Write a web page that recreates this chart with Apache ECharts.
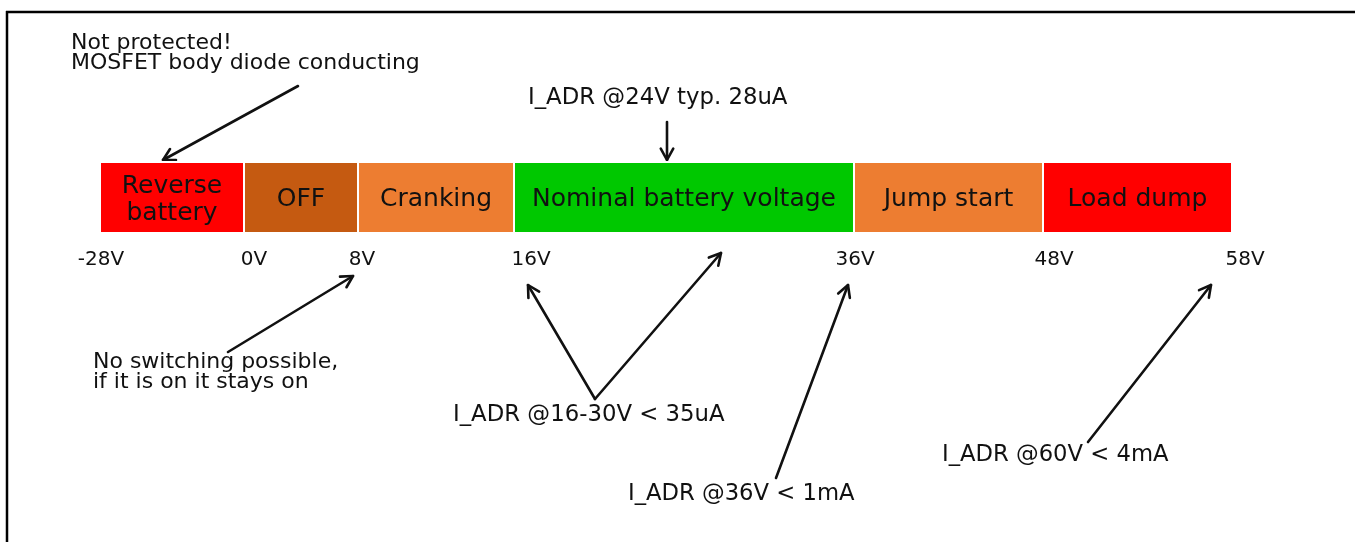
<!DOCTYPE html>
<html>
<head>
<meta charset="utf-8">
<script src="https://cdn.jsdelivr.net/npm/echarts@6/dist/echarts.min.js"></script>
<style>
  html, body { margin: 0; padding: 0; background: #fff; }
  #chart { width: 1355px; height: 542px; }
</style>
</head>
<body>
<div id="chart"></div>
<script>
// zones of the supply voltage
const zoneNames = ['Reverse\nbattery', 'OFF', 'Cranking', 'Nominal battery voltage', 'Jump start', 'Load dump'];
const zoneFrom = [-28, 0, 8, 16, 36, 48];
const zoneTo = [0, 8, 16, 36, 48, 58];
const tickVolts = [-28, 0, 8, 16, 36, 48, 58];
const tickLabels = ['-28V', '0V', '8V', '16V', '36V', '48V', '58V'];
const noteTexts = [
  'Not protected!\nMOSFET body diode conducting',
  'I_ADR @24V typ. 28uA',
  'No switching possible,\nif it is on it stays on',
  'I_ADR @16-30V < 35uA',
  'I_ADR @36V < 1mA',
  'I_ADR @60V < 4mA'
];

// layout: the band is not drawn to a linear voltage scale
const edgePos = [0, 144, 258, 414, 754, 943, 1132];
const tickNudge = [1, 10, 4, 17, 1, 11, 13];
const zoneColors = ['#ff0000', '#c55a11', '#ed7d31', '#00c800', '#ed7d31', '#ff0000'];
const notePos = [[71, 43.5], [528, 98.5], [93, 362], [453, 415.5], [628, 494], [942, 455.5]];
const noteSize = [22, 22.8, 22, 22.8, 22.7, 22.7];
const arrows = [
  [298, 86, 163, 160],
  [667, 122, 667, 160],
  [228, 352, 353, 276],
  [595, 399, 528, 285],
  [595, 399, 721, 253],
  [776, 478, 848, 285],
  [1088, 442, 1211, 285]
];
const FONT = 'Verdana, "DejaVu Sans", sans-serif';

// piecewise scale volts -> axis units
function vx(v) {
  for (let i = 0; i < tickVolts.length - 1; i++) {
    const a = tickVolts[i], b = tickVolts[i + 1];
    if (v <= b || i === tickVolts.length - 2) {
      return edgePos[i] + (v - a) / (b - a) * (edgePos[i + 1] - edgePos[i]);
    }
  }
}

const tickPos = tickVolts.map((v, i) => vx(v) + tickNudge[i]);
const zoneData = zoneNames.map((n, i) => [zoneFrom[i], zoneTo[i], i]);

const chart = echarts.init(document.getElementById('chart'));

function arrowShape(a) {
  const [x1, y1, x2, y2] = a;
  const ang = Math.atan2(y2 - y1, x2 - x1);
  const len = 13, spread = 0.5;
  const p1 = [x2 - len * Math.cos(ang - spread), y2 - len * Math.sin(ang - spread)];
  const p2 = [x2 - len * Math.cos(ang + spread), y2 - len * Math.sin(ang + spread)];
  const st = { stroke: '#111', lineWidth: 2.6, fill: null, lineCap: 'round', lineJoin: 'round' };
  return [
    { type: 'line', shape: { x1: x1, y1: y1, x2: x2, y2: y2 }, style: st, silent: true },
    { type: 'polyline', shape: { points: [p1, [x2, y2], p2] }, style: st, silent: true }
  ];
}

let graphics = [
  { type: 'line', shape: { x1: 6, y1: 12, x2: 1355, y2: 12 }, style: { stroke: '#000', lineWidth: 2.5 } },
  { type: 'line', shape: { x1: 7, y1: 11, x2: 7, y2: 542 }, style: { stroke: '#000', lineWidth: 2.5 } }
];
noteTexts.forEach(function (t, i) {
  const lh = 20;
  graphics.push({
    type: 'text',
    style: {
      text: t, x: notePos[i][0], y: notePos[i][1] - lh / 2,
      verticalAlign: 'top', align: 'left',
      fontSize: noteSize[i], fontFamily: FONT, fill: '#111', lineHeight: lh
    },
    silent: true
  });
});
arrows.forEach(function (a) { graphics = graphics.concat(arrowShape(a)); });

const option = {
  animation: false,
  grid: { left: 100, top: 162, width: 1160, height: 71 },
  xAxis: {
    type: 'value', min: 0, max: 1160,
    axisLine: { show: false }, axisTick: { show: false }, splitLine: { show: false },
    axisLabel: {
      customValues: tickPos,
      margin: 27,
      verticalAlign: 'middle',
      fontSize: 20, fontFamily: FONT, color: '#111',
      formatter: function (val) {
        let best = 0;
        tickPos.forEach(function (p, i) { if (Math.abs(p - val) < Math.abs(tickPos[best] - val)) best = i; });
        return tickLabels[best];
      }
    }
  },
  yAxis: { type: 'value', min: 0, max: 1, show: false },
  series: [{
    type: 'custom',
    data: zoneData,
    renderItem: function (params, api) {
      const i = api.value(2);
      const p0 = api.coord([vx(api.value(0)), 1]);
      const p1 = api.coord([vx(api.value(1)), 0]);
      return {
        type: 'group',
        children: [
          {
            type: 'rect',
            shape: { x: p0[0], y: p0[1], width: p1[0] - p0[0], height: p1[1] - p0[1] },
            style: { fill: zoneColors[i], stroke: '#fff', lineWidth: 2 }
          },
          {
            type: 'text',
            style: {
              text: zoneNames[i], x: (p0[0] + p1[0]) / 2, y: (p0[1] + p1[1]) / 2 + 2,
              align: 'center', verticalAlign: 'middle',
              fontSize: 25, fontFamily: FONT, fill: '#111', lineHeight: 27
            }
          }
        ]
      };
    }
  }],
  graphic: graphics
};
chart.setOption(option);
</script>
</body>
</html>
